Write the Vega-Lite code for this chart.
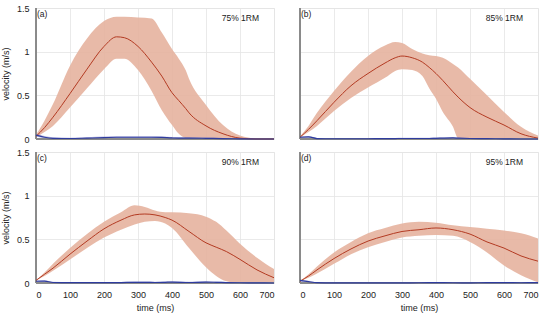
{
  "$schema": "https://vega.github.io/schema/vega-lite/v6.json",
  "padding": {"left": 1, "top": 4, "right": 15, "bottom": 4},
  "background": "white",
  "data": {"values": [
    {"p":"a","t":0,"m":0.03,"lo":0.02,"hi":0.05,"bm":0.045,"blo":0.03,"bhi":0.06},
    {"p":"a","t":25,"m":0.13,"lo":0.08,"hi":0.21,"bm":0.02,"blo":0.01,"bhi":0.035},
    {"p":"a","t":50,"m":0.25,"lo":0.15,"hi":0.4,"bm":0.008,"blo":0,"bhi":0.02},
    {"p":"a","t":100,"m":0.52,"lo":0.36,"hi":0.84,"bm":0.006,"blo":0,"bhi":0.015},
    {"p":"a","t":150,"m":0.8,"lo":0.58,"hi":1.15,"bm":0.01,"blo":0,"bhi":0.02},
    {"p":"a","t":200,"m":1.06,"lo":0.8,"hi":1.35,"bm":0.015,"blo":0.005,"bhi":0.028},
    {"p":"a","t":237,"m":1.17,"lo":0.92,"hi":1.4,"bm":0.02,"blo":0.008,"bhi":0.032},
    {"p":"a","t":260,"m":1.16,"lo":0.92,"hi":1.4,"bm":0.02,"blo":0.008,"bhi":0.032},
    {"p":"a","t":300,"m":1.06,"lo":0.79,"hi":1.39,"bm":0.02,"blo":0.008,"bhi":0.032},
    {"p":"a","t":340,"m":0.88,"lo":0.55,"hi":1.38,"bm":0.02,"blo":0.008,"bhi":0.032},
    {"p":"a","t":370,"m":0.72,"lo":0.33,"hi":1.22,"bm":0.018,"blo":0.006,"bhi":0.03},
    {"p":"a","t":400,"m":0.53,"lo":0.16,"hi":1.03,"bm":0.012,"blo":0.003,"bhi":0.022},
    {"p":"a","t":420,"m":0.44,"lo":0.06,"hi":0.92,"bm":0.01,"blo":0,"bhi":0.02},
    {"p":"a","t":440,"m":0.35,"lo":0.01,"hi":0.79,"bm":0.01,"blo":0,"bhi":0.02},
    {"p":"a","t":450,"m":0.3,"lo":0,"hi":0.69,"bm":0.01,"blo":0,"bhi":0.02},
    {"p":"a","t":500,"m":0.15,"lo":0,"hi":0.39,"bm":0.008,"blo":0,"bhi":0.016},
    {"p":"a","t":550,"m":0.06,"lo":0,"hi":0.16,"bm":0.005,"blo":0,"bhi":0.01},
    {"p":"a","t":600,"m":0.01,"lo":0,"hi":0.04,"bm":0.002,"blo":0,"bhi":0.005},
    {"p":"a","t":650,"m":0,"lo":0,"hi":0.005,"bm":0,"blo":0,"bhi":0.003},
    {"p":"a","t":700,"m":0,"lo":0,"hi":0,"bm":0,"blo":0,"bhi":0.002},

    {"p":"b","t":0,"m":0.02,"lo":0.02,"hi":0.03,"bm":0.02,"blo":0.01,"bhi":0.03},
    {"p":"b","t":25,"m":0.11,"lo":0.08,"hi":0.15,"bm":0.025,"blo":0.012,"bhi":0.035},
    {"p":"b","t":50,"m":0.21,"lo":0.15,"hi":0.3,"bm":0.005,"blo":0,"bhi":0.012},
    {"p":"b","t":100,"m":0.42,"lo":0.32,"hi":0.55,"bm":0.003,"blo":0,"bhi":0.008},
    {"p":"b","t":150,"m":0.61,"lo":0.47,"hi":0.77,"bm":0.003,"blo":0,"bhi":0.008},
    {"p":"b","t":200,"m":0.75,"lo":0.59,"hi":0.95,"bm":0.003,"blo":0,"bhi":0.008},
    {"p":"b","t":250,"m":0.87,"lo":0.7,"hi":1.07,"bm":0.004,"blo":0,"bhi":0.01},
    {"p":"b","t":280,"m":0.93,"lo":0.78,"hi":1.11,"bm":0.005,"blo":0,"bhi":0.012},
    {"p":"b","t":300,"m":0.95,"lo":0.8,"hi":1.1,"bm":0.006,"blo":0,"bhi":0.014},
    {"p":"b","t":330,"m":0.93,"lo":0.79,"hi":1.03,"bm":0.006,"blo":0,"bhi":0.014},
    {"p":"b","t":360,"m":0.88,"lo":0.72,"hi":0.98,"bm":0.006,"blo":0,"bhi":0.014},
    {"p":"b","t":380,"m":0.82,"lo":0.58,"hi":0.96,"bm":0.006,"blo":0,"bhi":0.014},
    {"p":"b","t":400,"m":0.75,"lo":0.46,"hi":0.95,"bm":0.008,"blo":0,"bhi":0.016},
    {"p":"b","t":420,"m":0.67,"lo":0.31,"hi":0.93,"bm":0.01,"blo":0.002,"bhi":0.018},
    {"p":"b","t":450,"m":0.54,"lo":0.14,"hi":0.86,"bm":0.012,"blo":0.004,"bhi":0.022},
    {"p":"b","t":465,"m":0.48,"lo":0.01,"hi":0.82,"bm":0.01,"blo":0.002,"bhi":0.018},
    {"p":"b","t":500,"m":0.36,"lo":0,"hi":0.69,"bm":0.006,"blo":0,"bhi":0.012},
    {"p":"b","t":550,"m":0.25,"lo":0,"hi":0.5,"bm":0.004,"blo":0,"bhi":0.01},
    {"p":"b","t":600,"m":0.16,"lo":0,"hi":0.31,"bm":0.002,"blo":0,"bhi":0.006},
    {"p":"b","t":650,"m":0.06,"lo":0,"hi":0.14,"bm":0,"blo":0,"bhi":0.004},
    {"p":"b","t":700,"m":0.01,"lo":0,"hi":0.04,"bm":0,"blo":0,"bhi":0.003},

    {"p":"c","t":0,"m":0.03,"lo":0.03,"hi":0.03,"bm":0.02,"blo":0.01,"bhi":0.03},
    {"p":"c","t":25,"m":0.1,"lo":0.08,"hi":0.12,"bm":0.022,"blo":0.01,"bhi":0.032},
    {"p":"c","t":50,"m":0.17,"lo":0.14,"hi":0.22,"bm":0.006,"blo":0,"bhi":0.014},
    {"p":"c","t":100,"m":0.33,"lo":0.27,"hi":0.4,"bm":0.004,"blo":0,"bhi":0.01},
    {"p":"c","t":150,"m":0.48,"lo":0.4,"hi":0.56,"bm":0.004,"blo":0,"bhi":0.01},
    {"p":"c","t":200,"m":0.62,"lo":0.52,"hi":0.7,"bm":0.004,"blo":0,"bhi":0.01},
    {"p":"c","t":250,"m":0.72,"lo":0.61,"hi":0.81,"bm":0.005,"blo":0,"bhi":0.012},
    {"p":"c","t":290,"m":0.78,"lo":0.67,"hi":0.89,"bm":0.008,"blo":0,"bhi":0.016},
    {"p":"c","t":320,"m":0.79,"lo":0.7,"hi":0.87,"bm":0.008,"blo":0,"bhi":0.016},
    {"p":"c","t":350,"m":0.78,"lo":0.71,"hi":0.83,"bm":0.006,"blo":0,"bhi":0.014},
    {"p":"c","t":380,"m":0.75,"lo":0.68,"hi":0.81,"bm":0.008,"blo":0,"bhi":0.016},
    {"p":"c","t":400,"m":0.72,"lo":0.63,"hi":0.81,"bm":0.01,"blo":0.002,"bhi":0.02},
    {"p":"c","t":450,"m":0.59,"lo":0.4,"hi":0.8,"bm":0.006,"blo":0,"bhi":0.014},
    {"p":"c","t":500,"m":0.46,"lo":0.18,"hi":0.76,"bm":0.01,"blo":0.002,"bhi":0.02},
    {"p":"c","t":530,"m":0.41,"lo":0.08,"hi":0.7,"bm":0.008,"blo":0,"bhi":0.016},
    {"p":"c","t":560,"m":0.36,"lo":0.02,"hi":0.6,"bm":0.005,"blo":0,"bhi":0.012},
    {"p":"c","t":600,"m":0.27,"lo":0,"hi":0.45,"bm":0.003,"blo":0,"bhi":0.008},
    {"p":"c","t":650,"m":0.15,"lo":0,"hi":0.29,"bm":0.002,"blo":0,"bhi":0.006},
    {"p":"c","t":700,"m":0.06,"lo":0,"hi":0.16,"bm":0,"blo":0,"bhi":0.004},

    {"p":"d","t":0,"m":0.02,"lo":0.02,"hi":0.02,"bm":0.03,"blo":0.015,"bhi":0.04},
    {"p":"d","t":25,"m":0.08,"lo":0.06,"hi":0.1,"bm":0.015,"blo":0.005,"bhi":0.025},
    {"p":"d","t":50,"m":0.15,"lo":0.11,"hi":0.19,"bm":0.004,"blo":0,"bhi":0.01},
    {"p":"d","t":100,"m":0.28,"lo":0.22,"hi":0.35,"bm":0.002,"blo":0,"bhi":0.007},
    {"p":"d","t":150,"m":0.39,"lo":0.33,"hi":0.47,"bm":0.002,"blo":0,"bhi":0.007},
    {"p":"d","t":200,"m":0.48,"lo":0.41,"hi":0.57,"bm":0.002,"blo":0,"bhi":0.007},
    {"p":"d","t":250,"m":0.54,"lo":0.47,"hi":0.63,"bm":0.002,"blo":0,"bhi":0.007},
    {"p":"d","t":300,"m":0.59,"lo":0.52,"hi":0.68,"bm":0.002,"blo":0,"bhi":0.007},
    {"p":"d","t":350,"m":0.61,"lo":0.54,"hi":0.7,"bm":0.003,"blo":0,"bhi":0.008},
    {"p":"d","t":400,"m":0.63,"lo":0.55,"hi":0.69,"bm":0.004,"blo":0,"bhi":0.01},
    {"p":"d","t":450,"m":0.61,"lo":0.54,"hi":0.66,"bm":0.003,"blo":0,"bhi":0.008},
    {"p":"d","t":500,"m":0.56,"lo":0.47,"hi":0.64,"bm":0.002,"blo":0,"bhi":0.007},
    {"p":"d","t":550,"m":0.47,"lo":0.35,"hi":0.62,"bm":0.004,"blo":0,"bhi":0.01},
    {"p":"d","t":600,"m":0.4,"lo":0.2,"hi":0.6,"bm":0.004,"blo":0,"bhi":0.01},
    {"p":"d","t":650,"m":0.31,"lo":0.09,"hi":0.57,"bm":0.003,"blo":0,"bhi":0.008},
    {"p":"d","t":700,"m":0.25,"lo":0.01,"hi":0.51,"bm":0.004,"blo":0,"bhi":0.01},

    {"p":"a","tag":"(a)","load":"75% 1RM"},
    {"p":"b","tag":"(b)","load":"85% 1RM"},
    {"p":"c","tag":"(c)","load":"90% 1RM"},
    {"p":"d","tag":"(d)","load":"95% 1RM"}
  ]},
  "columns": 2,
  "facet": {"field": "p", "type": "nominal", "title": null, "header": {"title": null, "labels": false, "labelExpr": "''", "labelFontSize": 0, "labelPadding": 0}},
  "spacing": {"row": 9, "column": 20},
  "spec": {
    "width": 238,
    "height": 131,
    "layer": [
      {
        "transform": [{"filter": "isValid(datum.t)"}],
        "mark": {"type": "area", "color": "#e6b39f", "opacity": 0.9, "interpolate": "monotone"},
        "encoding": {
          "x": {"field": "t", "type": "quantitative", "scale": {"domain": [0, 700], "nice": false}, "title": "time (ms)"},
          "y": {"field": "lo", "type": "quantitative", "scale": {"domain": [0, 1.5], "nice": false}, "title": "velocity (m/s)"},
          "y2": {"field": "hi"}
        }
      },
      {
        "transform": [{"filter": "isValid(datum.t)"}],
        "mark": {"type": "area", "color": "#8f8fd0", "opacity": 0.6, "interpolate": "monotone"},
        "encoding": {
          "x": {"field": "t", "type": "quantitative"},
          "y": {"field": "blo", "type": "quantitative"},
          "y2": {"field": "bhi"}
        }
      },
      {
        "mark": {"type": "rule", "color": "#8a8a8a", "strokeWidth": 1},
        "encoding": {"x": {"datum": 0}}
      },
      {
        "mark": {"type": "rule", "color": "#8a8a8a", "strokeWidth": 1},
        "encoding": {"y": {"datum": 0}}
      },
      {
        "transform": [{"filter": "isValid(datum.t)"}],
        "mark": {"type": "line", "color": "#b33a22", "strokeWidth": 1, "interpolate": "monotone"},
        "encoding": {
          "x": {"field": "t", "type": "quantitative"},
          "y": {"field": "m", "type": "quantitative"}
        }
      },
      {
        "transform": [{"filter": "isValid(datum.t)"}],
        "mark": {"type": "line", "color": "#2f3c9e", "strokeWidth": 1.2, "interpolate": "monotone"},
        "encoding": {
          "x": {"field": "t", "type": "quantitative"},
          "y": {"field": "bm", "type": "quantitative"}
        }
      },
      {
        "transform": [{"filter": "isValid(datum.tag)"}],
        "mark": {"type": "text", "align": "left", "baseline": "middle", "dx": 1, "dy": 6, "fontSize": 8.5, "font": "Liberation Sans", "color": "#222"},
        "encoding": {"x": {"datum": 0}, "y": {"datum": 1.5}, "text": {"field": "tag"}}
      },
      {
        "transform": [{"filter": "isValid(datum.tag)"}],
        "mark": {"type": "text", "align": "right", "baseline": "middle", "dx": -15, "dy": 10, "fontSize": 8.5, "font": "Liberation Sans", "color": "#222"},
        "encoding": {"x": {"datum": 700}, "y": {"datum": 1.5}, "text": {"field": "load"}}
      }
    ]
  },
  "config": {
    "view": {"stroke": "#e4e4e4"},
    "font": "Liberation Sans",
    "header": {"labels": false, "title": null, "labelPadding": 0},
    "headerFacet": {"labels": false, "title": null, "labelPadding": 0},
    "axis": {
      "grid": true, "gridColor": "#e4e4e4", "gridWidth": 0.8,
      "domain": false, "ticks": false,
      "labelFontSize": 9, "labelColor": "#222", "labelFont": "Liberation Sans",
      "titleFontSize": 9, "titleFontWeight": "normal", "titleColor": "#222", "titleFont": "Liberation Sans",
      "labelPadding": 4
    },
    "axisX": {"values": [0, 100, 200, 300, 400, 500, 600, 700], "titlePadding": 4},
    "axisY": {"values": [0, 0.5, 1, 1.5], "format": "~g", "titlePadding": 6, "labelFlush": false}
  }
}
